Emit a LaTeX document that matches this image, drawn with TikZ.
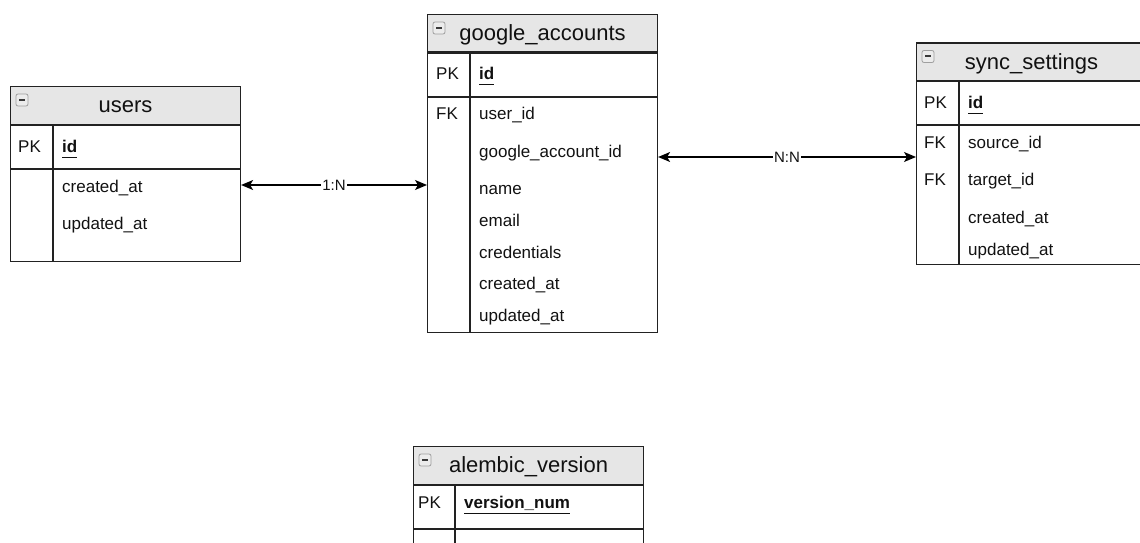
\documentclass[tikz,border=0pt]{standalone}
\usepackage{fontspec}
\setmainfont{Liberation Sans}
\usetikzlibrary{arrows.meta, positioning}

\definecolor{headgray}{HTML}{E6E6E6}
\definecolor{linegray}{HTML}{222222}
\definecolor{inkgray}{HTML}{111111}

\newcommand{\fieldfont}{\fontsize{17pt}{20pt}\selectfont}
\newcommand{\headfont}{\fontsize{22pt}{26pt}\selectfont}
\newcommand{\keyname}[1]{\textbf{\underline{\vphantom{y}#1}}}

\begin{document}
\begin{tikzpicture}[
    x=1pt, y=-1pt,
    tablehead/.style={
        draw=linegray,
        line width=1.1pt,
        fill=headgray,
        anchor=north west,
        minimum width=230pt,
        minimum height=37.5pt,
        inner sep=0pt,
        text height=19pt,
        text depth=4pt,
        font=\headfont,
        text=inkgray,
    },
    keyrow/.style={
        draw=linegray,
        line width=1.1pt,
        minimum width=230pt,
        minimum height=43pt,
        inner sep=0pt,
    },
    tablebody/.style={
        draw=linegray,
        line width=1.1pt,
        minimum width=230pt,
        inner sep=0pt,
    },
    divider/.style={
        draw=linegray,
        line width=1.1pt,
    },
    collapse/.style={
        draw=gray!75,
        line width=0.8pt,
        fill=gray!15,
        rounded corners=2pt,
        minimum size=12pt,
        inner sep=0pt,
        path picture={
            \draw[line width=2pt, gray!45!black]
                ([xshift=3pt]path picture bounding box.west) --
                ([xshift=-3pt]path picture bounding box.east);
        },
    },
    field/.style={
        anchor=base west,
        inner sep=0pt,
        text height=13pt,
        text depth=0pt,
        font=\fieldfont,
        text=inkgray,
    },
    link/.style={
        draw=black,
        line width=1.3pt,
        {Stealth[length=12pt, width=10pt, inset=3pt]}-{Stealth[length=12pt, width=10pt, inset=3pt]},
    },
    cardinality/.style={
        fill=white,
        inner sep=1pt,
        font=\fontsize{15pt}{18pt}\selectfont,
        text=inkgray,
    }
]
    \path[use as bounding box, clip] (0,0) rectangle (1140,543);

    % users
    \node[tablehead] (users) at (10,86) {users};
    \node[collapse] (users-icon) at ([shift={(12,14)}]users.north west) {};
    \node[keyrow, below=0pt of users] (users-key) {};
    \node[tablebody, minimum height=92pt, below=0pt of users-key] (users-body) {};
    \draw[divider] ([xshift=43pt]users-key.north west) -- ([xshift=43pt]users-body.south west);
    \node[field] (users-pk) at (18,152.5) {PK};
    \node[field] (users-id) at (62,152.5) {\keyname{id}};
    \node[field] (users-created) at (62,192) {created\_at};
    \node[field] (users-updated) at (62,229.5) {updated\_at};

    % google_accounts
    \node[tablehead] (ga) at (427,14) {google\_accounts};
    \node[collapse] (ga-icon) at ([shift={(12,14)}]ga.north west) {};
    \node[keyrow, below=0pt of ga] (ga-key) {};
    \node[tablebody, minimum height=235.5pt, below=0pt of ga-key] (ga-body) {};
    \draw[divider] ([xshift=43pt]ga-key.north west) -- ([xshift=43pt]ga-body.south west);
    \node[field] (ga-pk) at (436,79.5) {PK};
    \node[field] (ga-id) at (479,79.5) {\keyname{id}};
    \node[field] (ga-fk) at (436,119.5) {FK};
    \node[field] (ga-user) at (479,119.5) {user\_id};
    \node[field] (ga-gaid) at (479,157) {google\_account\_id};
    \node[field] (ga-name) at (479,194.5) {name};
    \node[field] (ga-email) at (479,226.5) {email};
    \node[field] (ga-cred) at (479,258.5) {credentials};
    \node[field] (ga-created) at (479,289.5) {created\_at};
    \node[field] (ga-updated) at (479,321) {updated\_at};

    % sync_settings
    \node[tablehead] (sync) at (916,42.5) {sync\_settings};
    \node[collapse] (sync-icon) at ([shift={(12,14)}]sync.north west) {};
    \node[keyrow, below=0pt of sync] (sync-key) {};
    \node[tablebody, minimum height=138.5pt, below=0pt of sync-key] (sync-body) {};
    \draw[divider] ([xshift=43pt]sync-key.north west) -- ([xshift=43pt]sync-body.south west);
    \node[field] (sync-pk) at (924,108.5) {PK};
    \node[field] (sync-id) at (968,108.5) {\keyname{id}};
    \node[field] (sync-fk1) at (924,148.5) {FK};
    \node[field] (sync-source) at (968,148.5) {source\_id};
    \node[field] (sync-fk2) at (924,185.5) {FK};
    \node[field] (sync-target) at (968,185.5) {target\_id};
    \node[field] (sync-created) at (968,223.5) {created\_at};
    \node[field] (sync-updated) at (968,255) {updated\_at};

    % alembic_version
    \node[tablehead] (alembic) at (413,446) {alembic\_version};
    \node[collapse] (alembic-icon) at ([shift={(12,14)}]alembic.north west) {};
    \node[keyrow, below=0pt of alembic] (alembic-key) {};
    \node[tablebody, minimum height=40pt, below=0pt of alembic-key] (alembic-body) {};
    \draw[divider] ([xshift=42pt]alembic-key.north west) -- ([xshift=42pt]alembic-body.south west);
    \node[field] (alembic-pk) at (418,508.5) {PK};
    \node[field] (alembic-num) at (464,508.5) {\keyname{version\_num}};

    % Relations
    \draw[link] (users-body.east |- 0,185) -- (ga-body.west |- 0,185)
        node[cardinality, midway] {1:N};
    \draw[link] (ga-body.east |- 0,157) -- (sync-body.west |- 0,157)
        node[cardinality, midway] {N:N};
\end{tikzpicture}
\end{document}
